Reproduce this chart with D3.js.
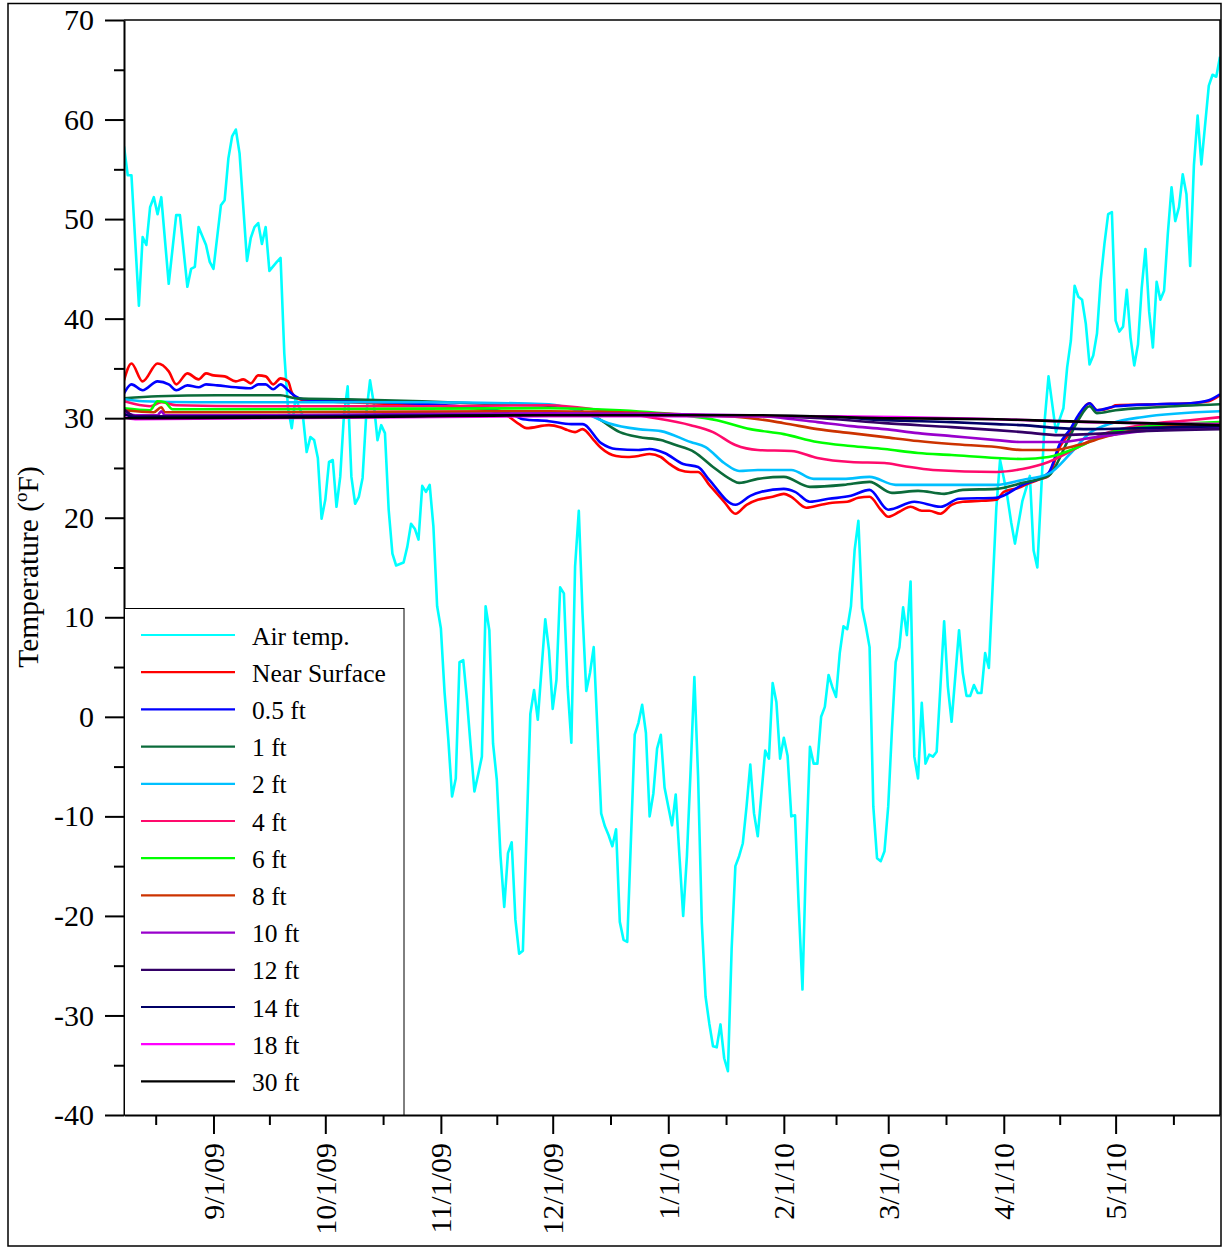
<!DOCTYPE html>
<html>
<head>
<meta charset="utf-8">
<script src="https://cdn.jsdelivr.net/npm/d3@7"></script>
<style>
  body { margin: 0; background: #fff; }
  svg { display: block; font-family: "Liberation Serif", "Times New Roman", serif; }
</style>
</head>
<body>
<div id="chart"></div>
<script>
// all series: [day offset from 8/8/09, temperature in F]
const airTemp = [[0,57.3],[1,54.4],[2,54.4],[4,41.3],[5,48.2],[6,47.4],[7,51.2],[8,52.2],[9,50.5],[10,52.2],[12,43.5],[14,50.4],[15,50.4],[17,43.2],[18,45.0],[19,45.2],[20,49.2],[22,47.4],[23,45.7],[24,45.0],[26,51.4],[27,51.9],[28,56.1],[29,58.3],[30,59.0],[31,56.6],[33,45.8],[34,48.1],[35,49.2],[36,49.6],[37,47.5],[38,49.2],[39,44.8],[41,45.7],[42,46.1],[43,36.5],[44,31.0],[45,29.0],[46,32.0],[48,30.2],[49,26.6],[50,28.1],[51,27.8],[52,26.0],[53,19.9],[54,21.8],[55,25.6],[56,25.8],[57,21.1],[58,24.1],[59,30.3],[60,33.2],[61,24.1],[62,21.4],[63,22.1],[64,24.0],[65,30.5],[66,33.8],[67,31.5],[68,27.8],[69,29.3],[70,28.5],[71,20.8],[72,16.4],[73,15.2],[75,15.5],[76,17.1],[77,19.4],[78,18.9],[79,17.8],[80,23.2],[81,22.6],[82,23.3],[83,19.1],[84,11.1],[85,8.9],[86,2.4],[87,-2.3],[88,-8.0],[89,-6.2],[90,5.5],[91,5.7],[92,1.7],[93,-3.0],[94,-7.5],[95,-5.8],[96,-4.0],[97,11.1],[98,8.7],[99,-2.7],[100,-6.3],[101,-14.0],[102,-19.1],[103,-13.7],[104,-12.6],[105,-20.4],[106,-23.8],[107,-23.5],[109,0.3],[110,2.7],[111,-0.3],[113,9.8],[114,6.7],[115,0.8],[116,3.7],[117,13.0],[118,12.4],[119,3.0],[120,-2.6],[121,15.1],[122,20.7],[123,10.4],[124,2.6],[125,4.4],[126,7.0],[127,-1.3],[128,-9.7],[129,-11.0],[130,-11.9],[131,-13.0],[132,-11.3],[133,-20.6],[134,-22.4],[135,-22.6],[137,-1.8],[138,-0.6],[139,1.2],[140,-1.6],[141,-10.0],[142,-7.7],[143,-3.2],[144,-1.8],[145,-7.1],[146,-9.0],[147,-10.9],[148,-7.8],[149,-14.0],[150,-20.0],[151,-14.0],[152,-5.3],[153,4.0],[154,-6.0],[155,-20.7],[156,-28.1],[157,-30.8],[158,-33.1],[159,-33.2],[160,-30.9],[161,-34.3],[162,-35.6],[163,-23.3],[164,-15.0],[165,-14.0],[166,-12.7],[167,-9.0],[168,-4.8],[169,-9.7],[170,-12.0],[171,-7.7],[172,-3.4],[173,-4.2],[174,3.4],[175,1.5],[176,-4.2],[177,-2.1],[178,-3.9],[179,-10.0],[180,-9.9],[181,-19.1],[182,-27.4],[183,-13.5],[184,-3.0],[185,-4.7],[186,-4.7],[187,0.0],[188,1.0],[189,4.2],[190,3.0],[191,2.0],[192,6.4],[193,9.1],[194,8.8],[195,11.1],[196,16.8],[197,19.7],[198,10.9],[199,9.1],[200,7.0],[201,-9.0],[202,-14.2],[203,-14.5],[204,-13.5],[205,-9.0],[206,-1.3],[207,5.5],[208,7.0],[209,11.0],[210,8.2],[211,13.6],[212,-4.0],[213,-6.2],[214,1.4],[215,-4.7],[216,-3.8],[217,-4.0],[218,-3.5],[219,3.0],[220,9.6],[221,3.0],[222,-0.5],[224,8.7],[225,4.4],[226,2.1],[227,2.1],[228,3.2],[229,2.4],[230,2.4],[231,6.4],[232,4.9],[233,13.0],[234,21.0],[235,25.8],[236,24.0],[237,22.0],[238,19.5],[239,17.4],[241,21.7],[243,24.2],[244,16.7],[245,15.0],[247,29.9],[248,34.2],[250,28.6],[251,29.9],[252,31.0],[253,35.1],[254,37.8],[255,43.3],[256,42.2],[257,41.9],[258,39.5],[259,35.4],[260,36.3],[261,38.5],[262,43.9],[263,47.5],[264,50.5],[265,50.7],[266,39.8],[267,38.7],[268,39.2],[269,42.9],[270,38.1],[271,35.3],[272,37.4],[273,43.1],[274,47.0],[275,40.7],[276,37.1],[277,43.7],[278,41.9],[279,42.8],[280,48.5],[281,53.2],[282,49.8],[283,51.2],[284,54.5],[285,52.5],[286,45.3],[287,55.4],[288,60.4],[289,55.5],[291,63.4],[292,64.5],[293,64.3],[294,66.3]];

const nearSurface = [[0,33.8],[2,35.5],[5,33.7],[9,35.5],[12,34.7],[14,33.4],[17,34.5],[20,33.9],[22,34.5],[24,34.3],[27,34.2],[30,33.7],[32,33.9],[34,33.5],[36,34.3],[38,34.2],[40,33.4],[42,34.0],[44,33.7],[45,32.6],[46,32.1],[48,31.8],[60,31.6],[80,31.3],[96,30.9],[100,30.6],[103,30.2],[106,29.4],[108,29.0],[114,29.3],[117,29.1],[119,28.8],[121,28.6],[123,28.9],[126,27.8],[128,27.0],[132,26.2],[135,26.1],[138,26.2],[141,26.4],[144,26.1],[146,25.5],[149,24.8],[152,24.6],[154,24.6],[157,23.3],[161,21.6],[164,20.4],[167,21.3],[170,21.8],[174,22.1],[177,22.4],[179,22.1],[183,21.0],[187,21.3],[190,21.5],[194,21.6],[197,22.0],[200,22.1],[203,20.8],[205,20.1],[208,20.6],[211,21.1],[214,20.7],[216,20.7],[219,20.4],[222,21.3],[225,21.6],[230,21.7],[234,21.8],[236,22.6],[240,23.0],[243,23.5],[246,23.9],[248,24.2],[251,27.1],[254,28.7],[256,30.1],[259,31.5],[261,30.8],[265,31.1],[266,31.3],[277,31.4],[286,31.5],[291,31.7],[294,32.3]];
const halfFt = [[0,32.5],[2,33.4],[5,32.8],[9,33.7],[12,33.4],[14,32.8],[17,33.3],[20,33.1],[22,33.4],[25,33.3],[30,33.1],[34,33.0],[36,33.4],[38,33.4],[40,32.9],[42,33.4],[44,32.8],[46,32.2],[48,31.9],[70,31.6],[90,31.2],[100,30.8],[104,30.4],[107,29.9],[114,29.7],[120,29.4],[123,29.4],[128,27.5],[132,26.9],[138,26.8],[141,26.9],[145,26.5],[150,25.4],[154,25.1],[157,23.8],[164,21.3],[168,22.2],[171,22.6],[177,22.9],[180,22.6],[184,21.6],[189,21.9],[195,22.2],[200,22.8],[205,20.8],[212,21.6],[219,21.1],[224,21.9],[234,22.0],[241,23.3],[248,24.5],[251,27.4],[254,29.0],[256,30.3],[259,31.5],[261,30.8],[266,31.2],[277,31.4],[286,31.5],[291,31.8],[294,32.4]];
const oneFt = [[0,32.0],[9,32.2],[25,32.3],[42,32.3],[46,32.0],[60,31.9],[80,31.7],[100,31.4],[117,31.2],[122,30.8],[127,30.0],[133,28.6],[138,28.1],[144,27.8],[148,27.3],[153,26.6],[158,25.1],[163,23.8],[165,23.5],[170,23.9],[177,24.1],[184,23.1],[193,23.3],[200,23.6],[206,22.5],[213,22.7],[220,22.4],[225,22.8],[234,22.9],[241,23.5],[248,24.2],[253,27.6],[256,29.8],[259,31.2],[261,30.5],[266,30.8],[277,31.1],[294,31.4]];
const twoFt = [[0,31.9],[5,31.7],[20,31.6],[45,31.6],[80,31.6],[114,31.4],[123,30.6],[130,29.5],[138,28.9],[144,28.7],[152,27.6],[156,27.1],[161,25.5],[165,24.7],[170,24.8],[179,24.8],[185,23.9],[193,23.9],[200,24.1],[207,23.3],[217,23.3],[234,23.3],[241,23.8],[248,24.4],[254,26.5],[259,28.5],[265,29.5],[273,30.1],[294,30.7]];
const fourFt = [[0,31.7],[7,31.2],[10,31.6],[14,31.3],[40,31.2],[80,31.2],[114,31.3],[128,30.8],[141,30.1],[152,29.3],[158,28.6],[164,27.3],[170,26.8],[179,26.7],[186,26.0],[195,25.6],[204,25.5],[209,25.2],[217,24.8],[234,24.6],[241,24.9],[248,25.6],[256,27.1],[262,28.3],[273,29.3],[286,29.8],[294,30.1]];
const sixFt = [[0,31.0],[7,30.8],[9,31.7],[11,31.6],[13,30.9],[40,30.9],[114,31.0],[133,30.8],[150,30.3],[159,29.8],[168,28.9],[177,28.4],[186,27.6],[195,27.2],[204,26.9],[213,26.5],[222,26.3],[234,26.0],[241,25.9],[248,26.1],[256,27.1],[264,28.5],[273,29.1],[294,29.6]];
const eightFt = [[0,30.8],[8,30.6],[10,31.1],[11,30.6],[40,30.6],[114,30.7],[141,30.5],[168,30.0],[177,29.5],[186,28.9],[195,28.5],[204,28.1],[213,27.7],[222,27.4],[234,27.1],[241,26.8],[249,26.8],[256,27.3],[264,28.2],[273,28.9],[294,29.4]];
const tenFt = [[0,30.6],[3,30.3],[9,30.3],[10,30.7],[11,30.3],[40,30.3],[114,30.5],[168,30.3],[177,30.0],[186,29.6],[195,29.2],[204,28.9],[213,28.5],[222,28.2],[234,27.8],[241,27.6],[251,27.6],[259,28.0],[273,28.7],[294,29.1]];
const twelveFt = [[0,30.9],[3,30.2],[40,30.2],[114,30.3],[170,30.2],[187,30.0],[204,29.5],[222,29.1],[234,28.8],[241,28.6],[251,28.3],[259,28.4],[273,28.7],[294,28.9]];
const fourteenFt = [[0,30.4],[3,30.1],[114,30.3],[187,30.2],[204,29.8],[222,29.6],[234,29.4],[241,29.3],[251,29.0],[259,28.9],[273,29.0],[294,29.2]];
const eighteenFt = [[0,30.1],[3,29.9],[114,30.2],[187,30.2],[234,29.9],[259,29.6],[294,29.4]];
const thirtyFt = [[0,30.0],[60,30.1],[114,30.3],[170,30.3],[204,30.0],[234,29.9],[251,29.7],[273,29.5],[294,29.3]];

const seriesNames = ['Air temp.', 'Near Surface', '0.5 ft', '1 ft', '2 ft', '4 ft', '6 ft', '8 ft', '10 ft', '12 ft', '14 ft', '18 ft', '30 ft'];
const seriesData = [airTemp, nearSurface, halfFt, oneFt, twoFt, fourFt, sixFt, eightFt, tenFt, twelveFt, fourteenFt, eighteenFt, thirtyFt];
const seriesColors = ['#00ffff', '#ff0000', '#0000ff', '#0b6b3a', '#00c0ff', '#ff0a6c', '#00ff00', '#cc3300', '#9900cc', '#330066', '#000066', '#ff00ff', '#000000'];

const yTicks = [-40, -30, -20, -10, 0, 10, 20, 30, 40, 50, 60, 70];
const monthTicks = ['2009-09-01', '2009-10-01', '2009-11-01', '2009-12-01', '2010-01-01', '2010-02-01', '2010-03-01', '2010-04-01', '2010-05-01'];

const startDate = Date.UTC(2009, 7, 8);
const dayToDate = d => new Date(startDate + d * 864e5);

const width = 1222, height = 1247;
const svg = d3.select('#chart').append('svg')
    .attr('width', width)
    .attr('height', height);

// outer frame
svg.append('rect')
    .attr('x', 8).attr('y', 3.5)
    .attr('width', 1213).attr('height', 1242.5)
    .attr('fill', 'none').attr('stroke', '#000').attr('stroke-width', 1.5);

const x = d3.scaleUtc()
    .domain([dayToDate(0), dayToDate(294)])
    .range([124, 1220]);

const y = d3.scaleLinear()
    .domain([-40, 70])
    .range([1115, 20]);

svg.append('clipPath').attr('id', 'plot-clip')
    .append('rect').attr('x', 124).attr('y', 20).attr('width', 1096).attr('height', 1095);

// lines, air temp at the bottom
const lineAir = d3.line()
    .x(d => x(dayToDate(d[0])))
    .y(d => y(d[1]));
const lineGround = d3.line()
    .x(d => x(dayToDate(d[0])))
    .y(d => y(d[1]))
    .curve(d3.curveMonotoneX);

const plot = svg.append('g').attr('clip-path', 'url(#plot-clip)');
seriesData.forEach((data, i) => {
    plot.append('path')
        .datum(data)
        .attr('fill', 'none')
        .attr('stroke', seriesColors[i])
        .attr('stroke-width', 2.6)
        .attr('stroke-linejoin', 'round')
        .attr('d', i === 0 ? lineAir : lineGround);
});

// plot box top and right
svg.append('path')
    .attr('d', 'M124,20H1220V1115')
    .attr('fill', 'none').attr('stroke', '#000').attr('stroke-width', 1.5);

// y axis
svg.append('g')
    .attr('transform', 'translate(124,0)')
    .call(d3.axisLeft(y).tickValues(yTicks).tickSize(19).tickPadding(11).tickSizeOuter(0).tickFormat(d => String(d)));
svg.append('g')
    .attr('transform', 'translate(124,0)')
    .call(d3.axisLeft(y).tickValues(yTicks.slice(1).map(v => v - 5)).tickSize(10).tickSizeOuter(0).tickFormat(''))
    .select('.domain').remove();

// x axis
const monthDates = monthTicks.map(s => new Date(s + 'T00:00:00Z'));
const edges = [new Date(Date.UTC(2009, 7, 1))].concat(monthDates, [new Date(Date.UTC(2010, 5, 1))]);
const midTicks = d3.pairs(edges).map(p => new Date((+p[0] + +p[1]) / 2))
    .filter(d => d >= x.domain()[0] && d <= x.domain()[1]);

const xAxis = svg.append('g')
    .attr('transform', 'translate(0,1115)')
    .call(d3.axisBottom(x).tickValues(monthDates).tickSize(19).tickSizeOuter(0).tickFormat(d3.utcFormat('%-m/%-d/%y')));
xAxis.selectAll('text')
    .attr('transform', 'rotate(-90)')
    .attr('x', -28)
    .attr('y', 0)
    .attr('dy', '0.33em')
    .style('text-anchor', 'end');
svg.append('g')
    .attr('transform', 'translate(0,1115)')
    .call(d3.axisBottom(x).tickValues(midTicks).tickSize(10).tickSizeOuter(0).tickFormat(''))
    .select('.domain').remove();

svg.selectAll('.domain, .tick line').attr('stroke', '#000').attr('stroke-width', 2);
svg.selectAll('.tick text').attr('font-size', 30).attr('font-family', '"Liberation Serif", "Times New Roman", serif').attr('fill', '#000');

// y axis title
const title = svg.append('text')
    .attr('transform', 'translate(38,567) rotate(-90)')
    .attr('text-anchor', 'middle')
    .attr('font-size', 29.5)
    .text('Temperature (');
title.append('tspan').attr('font-size', 19).attr('dy', -11).text('o');
title.append('tspan').attr('dy', 11).text('F)');

// legend
const legend = svg.append('g');
legend.append('rect')
    .attr('x', 124.5).attr('y', 608.5)
    .attr('width', 279.5).attr('height', 506.5)
    .attr('fill', '#fff').attr('stroke', '#000').attr('stroke-width', 1);
seriesNames.forEach((name, i) => {
    const ly = 635 + i * 37.2;
    legend.append('line')
        .attr('x1', 141).attr('x2', 235)
        .attr('y1', ly).attr('y2', ly)
        .attr('stroke', seriesColors[i]).attr('stroke-width', 2.2);
    legend.append('text')
        .attr('x', 252).attr('y', ly)
        .attr('dy', '0.38em')
        .attr('font-size', 25.5)
        .text(name);
});
</script>
</body>
</html>
